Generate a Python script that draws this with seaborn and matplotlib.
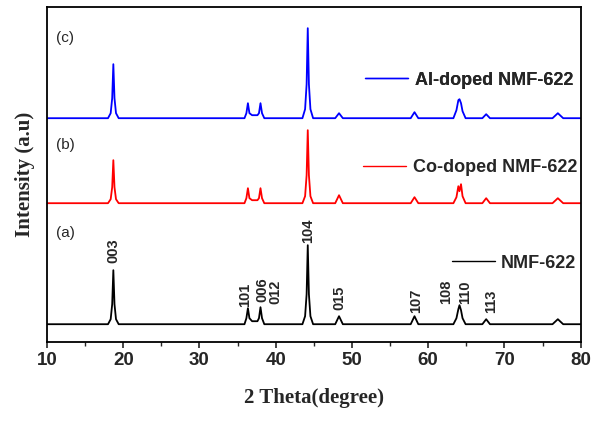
import pandas as pd
import seaborn as sns
import matplotlib.pyplot as plt
from matplotlib.lines import Line2D
from matplotlib.ticker import MultipleLocator

# XRD patterns (relative intensity above each baseline)
two_theta = [10,
             18.0, 18.35, 18.55, 18.7, 18.85, 19.05, 19.4,
             35.9, 36.15, 36.35, 36.55, 36.9, 37.6, 37.8, 38.0, 38.2, 38.5,
             43.5, 43.85, 44.05, 44.2, 44.35, 44.55, 44.9,
             47.8, 48.3, 48.8,
             57.7, 58.2, 58.7,
             63.3, 63.7, 63.95, 64.1, 64.3, 64.5, 64.9,
             67.1, 67.6, 68.1,
             76.3, 77.0, 77.7,
             80]
nmf = [0,
       0, 5, 20, 54, 20, 5, 0,
       0, 6, 16, 6, 3, 3, 6, 17, 6, 0,
       0, 8, 30, 79, 30, 8, 0,
       0, 8, 0,
       0, 8, 0,
       0, 6, 15, 19, 14, 6, 0,
       0, 5, 0,
       0, 5, 0,
       0]
co_doped = [0,
            0, 4, 16, 43, 16, 4, 0,
            0, 5, 15, 5, 3, 3, 5, 15, 5, 0,
            0, 7, 28, 73, 28, 7, 0,
            0, 8, 0,
            0, 6, 0,
            0, 6, 17, 12, 19, 7, 0,
            0, 5, 0,
            0, 5, 0,
            0]
al_doped = [0,
            0, 5, 20, 54, 20, 5, 0,
            0, 5, 15, 5, 3, 3, 5, 15, 5, 0,
            0, 9, 34, 90, 34, 9, 0,
            0, 5, 0,
            0, 6, 0,
            0, 8, 18, 19, 15, 7, 0,
            0, 4, 0,
            0, 5, 0,
            0]

samples = ["NMF-622", "Co-doped NMF-622", "Al-doped NMF-622"]
offsets = [18, 139, 224]
colors = ["black", "red", "blue"]
panel_tags = ["(a)", "(b)", "(c)"]
tag_y = [109, 197, 304]

# Miller indices on the bottom pattern
hkl = ["003", "101", "006", "012", "104", "015", "107", "108", "110", "113"]
hkl_x = [18.65, 35.95, 38.3, 40.0, 44.3, 48.3, 58.4, 62.4, 64.8, 68.3]
hkl_y = [79, 35, 40, 38, 99, 32, 29, 38, 38, 29]

rows = []
for name, off, vals in zip(samples, offsets, [nmf, co_doped, al_doped]):
    for t, v in zip(two_theta, vals):
        rows.append({"two_theta": t, "intensity": v + off, "sample": name})
df = pd.DataFrame(rows)

sns.set_style("ticks")
plt.rcParams["font.family"] = ["Liberation Sans", "DejaVu Sans"]

fig, ax = plt.subplots(figsize=(5.95, 4.23), dpi=100)
fig.subplots_adjust(left=0.079, right=0.976, top=0.983, bottom=0.191)

sns.lineplot(data=df, x="two_theta", y="intensity", hue="sample",
             palette=dict(zip(samples, colors)), estimator=None, sort=False,
             lw=1.3, legend=False, ax=ax)

ax.set_xlim(10, 80)
ax.set_ylim(0, 335)
ax.set_yticks([])
ax.xaxis.set_major_locator(MultipleLocator(10))
ax.xaxis.set_minor_locator(MultipleLocator(5))
ax.tick_params(axis="x", which="major", length=4, width=1.2, direction="out", pad=3)
ax.tick_params(axis="x", which="minor", length=3, width=1.0, direction="out")
for lbl in ax.get_xticklabels():
    lbl.set_fontsize(13.5)
    lbl.set_fontweight("bold")
for sp in ax.spines.values():
    sp.set_visible(True)
    sp.set_linewidth(1.3)
    sp.set_color("black")

ax.set_xlabel("2 Theta(degree)", fontsize=15, fontweight="bold",
              family="Liberation Serif", labelpad=14)
ax.set_ylabel("Intensity (a.u)", fontsize=15, fontweight="bold",
              family="Liberation Serif", labelpad=9)

for tag, y in zip(panel_tags, tag_y):
    ax.text(11.2, y, tag, fontsize=11, va="center", ha="left")

for lab, x, y in zip(hkl, hkl_x, hkl_y):
    ax.text(x, y, lab, rotation=90, fontsize=10.5, fontweight="bold",
            ha="center", va="bottom")

# one small legend next to each pattern
legend_pos = [(0.758, 0.236), (0.592, 0.522), (0.596, 0.782)]
for name, col, pos in zip(samples, colors, legend_pos):
    leg = ax.legend([Line2D([], [], color=col, lw=1.0)], [name],
                    loc="center left", bbox_to_anchor=pos, frameon=False,
                    borderpad=0, borderaxespad=0, handlelength=2.4,
                    handletextpad=0.35, prop={"size": 13, "weight": "bold"})
    ax.add_artist(leg)

fig.savefig("out.png", dpi=100)
